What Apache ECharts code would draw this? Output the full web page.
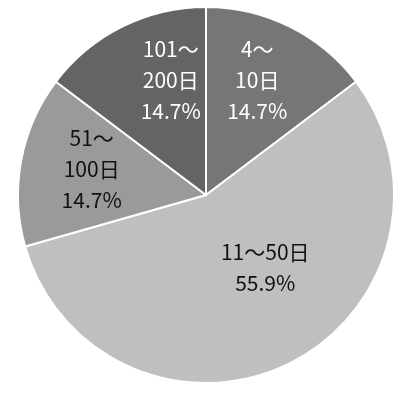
<!DOCTYPE html>
<html><head><meta charset="utf-8">
<script src="https://cdn.jsdelivr.net/npm/echarts@6/dist/echarts.min.js"></script>
<style>html,body{margin:0;padding:0;background:#fff}#c{width:393px;height:393px}</style>
</head><body><div id="c"></div>
<script>
const categories = ['4〜10日', '11〜50日', '51〜100日', '101〜200日'];
const values = [5, 19, 5, 5];
const colors = ['#767676', '#bfbfbf', '#9a9a9a', '#646464'];
const labelColors = ['#ffffff', '#111111', '#111111', '#ffffff'];
const labelShift = [[8, -28], [16, -14], [-19, -8], [8, -28]];

const chart = echarts.init(document.getElementById('c'));
chart.setOption({
  animation: false,
  series: [{
    type: 'pie',
    center: [206, 195],
    radius: [0, 188],
    startAngle: 90,
    clockwise: true,
    percentPrecision: 1,
    avoidLabelOverlap: false,
    itemStyle: { borderColor: '#ffffff', borderWidth: 2 },
    label: {
      show: true,
      position: 'inside',
      fontFamily: 'Noto Sans CJK JP',
      fontSize: 21,
      lineHeight: 31,
      align: 'center',
      formatter: function (p) {
        const nm = p.dataIndex === 1 ? p.name : p.name.replace('〜', '〜\n');
        return nm + '\n' + p.percent.toFixed(1) + '%';
      }
    },
    labelLine: { show: false },
    labelLayout: function (p) {
      const s = labelShift[p.dataIndex];
      return { dx: s[0], dy: s[1] };
    },
    emphasis: { disabled: true },
    data: categories.map((c, i) => ({
      name: c, value: values[i],
      itemStyle: { color: colors[i] },
      label: { color: labelColors[i] }
    }))
  }]
});
</script></body></html>
